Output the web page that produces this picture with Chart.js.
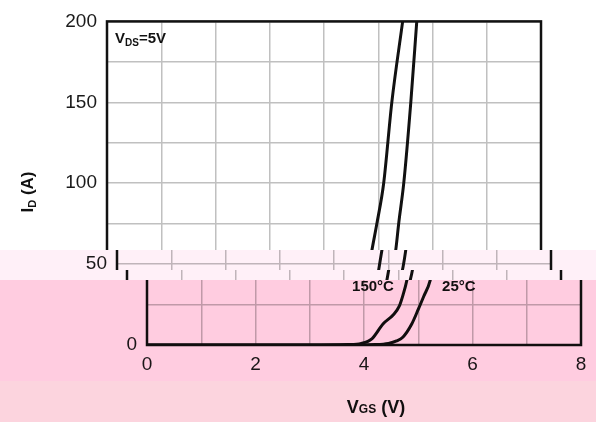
<!DOCTYPE html>
<html lang="en">
<head>
<meta charset="UTF-8">
<title>ID vs VGS</title>
<script src="https://cdn.jsdelivr.net/npm/chart.js"></script>
<style>
  body { margin: 0; width: 596px; height: 422px; overflow: hidden; position: relative; background: #fff; }
  .band { position: absolute; left: 0; width: 596px; overflow: hidden; }
  .band canvas { position: absolute; }
  .tint { position: absolute; left: 0; width: 596px; mix-blend-mode: multiply; pointer-events: none; }
</style>
</head>
<body>
  <!-- the picture is split into shifted strips, each strip is the same chart -->
  <div class="band" style="top:0;height:250px"><canvas id="c0" width="596" height="422" style="top:0;left:0"></canvas></div>
  <div class="band" style="top:250px;height:20px"><canvas id="c1" width="596" height="422" style="top:-250px;left:10px"></canvas></div>
  <div class="band" style="top:270px;height:10px"><canvas id="c2" width="596" height="422" style="top:-270px;left:20px"></canvas></div>
  <div class="band" style="top:280px;height:142px"><canvas id="c3" width="596" height="422" style="top:-280px;left:40px"></canvas></div>
  <div class="tint" style="top:250px;height:30px;background:#fff0f8"></div>
  <div class="tint" style="top:280px;height:101px;background:#ffcce0"></div>
  <div class="tint" style="top:381px;height:41px;background:#fcd4de"></div>

<script>
// transfer curves, VDS = 5V
var vgs150 = [0, 3.0, 3.7, 3.95, 4.15, 4.35, 4.55, 4.65, 4.72, 4.79, 4.88, 4.98, 5.1, 5.25, 5.45];
var id150  = [0, 0, 0.3, 1, 4, 13, 19, 24, 31, 40, 58, 76, 100, 150, 200];
var vgs25  = [0, 3.5, 4.2, 4.45, 4.6, 4.72, 4.88, 5.0, 5.1, 5.22, 5.32, 5.38, 5.47, 5.6, 5.71];
var id25   = [0, 0, 0.3, 1, 2.5, 5, 13, 22, 30, 40, 58, 76, 100, 150, 200];

var xTicks = [0, 2, 4, 6, 8];
var yTicks = [0, 50, 100, 150, 200];

var tempLabels = ['150°C', '25°C'];
var tempLabelV = [3.78, 5.44];
var tempLabelI = 36;

var FONT = '"Liberation Sans", Arial, sans-serif';

function pts(xs, ys) {
    return xs.map(function (v, i) { return { x: v, y: ys[i] }; });
}

// draw text made of parts (normal / subscript)
function drawParts(ctx, parts, x, y) {
    parts.forEach(function (p) {
        ctx.font = p.font;
        ctx.fillText(p.t, x, y + (p.dy || 0));
        x += ctx.measureText(p.t).width;
    });
}
function partsWidth(ctx, parts) {
    var w = 0;
    parts.forEach(function (p) { ctx.font = p.font; w += ctx.measureText(p.t).width; });
    return w;
}

var decor = {
    id: 'decor',
    afterDraw: function (chart) {
        var ctx = chart.ctx, a = chart.chartArea;
        var x = chart.scales.x, y = chart.scales.y;
        ctx.save();
        ctx.strokeStyle = '#111';
        ctx.lineWidth = 2.5;
        ctx.strokeRect(a.left, a.top, a.width, a.height);

        ctx.fillStyle = '#111';
        ctx.textBaseline = 'alphabetic';
        drawParts(ctx, [
            { t: 'V', font: 'bold 15px ' + FONT },
            { t: 'DS', font: 'bold 10px ' + FONT, dy: 3 },
            { t: '=5V', font: 'bold 15px ' + FONT }
        ], a.left + 8, a.top + 22);

        ctx.textBaseline = 'middle';
        ctx.font = 'bold 15px ' + FONT;
        tempLabels.forEach(function (t, i) {
            ctx.fillText(t, x.getPixelForValue(tempLabelV[i]), y.getPixelForValue(tempLabelI));
        });

        // y title
        var yt = [
            { t: 'I', font: 'bold 17px ' + FONT },
            { t: 'D', font: 'bold 11px ' + FONT, dy: 3 },
            { t: ' (A)', font: 'bold 17px ' + FONT }
        ];
        ctx.save();
        ctx.translate(33, 192);
        ctx.rotate(-Math.PI / 2);
        ctx.textBaseline = 'alphabetic';
        drawParts(ctx, yt, -partsWidth(ctx, yt) / 2, 0);
        ctx.restore();

        // x title
        var xt = [
            { t: 'V', font: 'bold 18px ' + FONT },
            { t: 'GS', font: 'bold 12px ' + FONT },
            { t: ' (V)', font: 'bold 18px ' + FONT }
        ];
        ctx.textBaseline = 'alphabetic';
        drawParts(ctx, xt, (a.left + a.right) / 2 + 12 - partsWidth(ctx, xt) / 2, a.bottom + 68);
        ctx.restore();
    }
};

function makeChart(id) {
    var ctx = document.getElementById(id).getContext('2d');
    return new Chart(ctx, {
        type: 'line',
        data: {
            datasets: [{
                label: '150°C',
                data: pts(vgs150, id150),
                borderColor: '#111',
                borderWidth: 3,
                pointRadius: 0,
                cubicInterpolationMode: 'monotone'
            }, {
                label: '25°C',
                data: pts(vgs25, id25),
                borderColor: '#111',
                borderWidth: 3,
                pointRadius: 0,
                cubicInterpolationMode: 'monotone'
            }]
        },
        options: {
            responsive: false,
            animation: false,
            devicePixelRatio: 1,
            layout: { padding: { top: 17, right: 55, bottom: 0, left: 0 } },
            plugins: { legend: { display: false }, tooltip: { enabled: false } },
            scales: {
                x: {
                    type: 'linear',
                    min: 0,
                    max: 8,
                    afterFit: function (s) { s.height = 77; },
                    border: { display: false },
                    grid: { color: '#c0c0c0', lineWidth: 1.5, drawTicks: false },
                    ticks: {
                        stepSize: 1,
                        autoSkip: false,
                        maxRotation: 0,
                        padding: 8,
                        color: '#1a1a1a',
                        font: { family: FONT, size: 19 },
                        callback: function (v) { return xTicks.indexOf(v) >= 0 ? v : ''; }
                    }
                },
                y: {
                    min: 0,
                    max: 200,
                    afterFit: function (s) { s.width = 107; },
                    border: { display: false },
                    grid: { color: '#c0c0c0', lineWidth: 1.5, drawTicks: false },
                    ticks: {
                        stepSize: 25,
                        autoSkip: false,
                        padding: 10,
                        color: '#1a1a1a',
                        font: { family: FONT, size: 19 },
                        callback: function (v) { return yTicks.indexOf(v) >= 0 ? v : ''; }
                    }
                }
            }
        },
        plugins: [decor]
    });
}

['c0', 'c1', 'c2', 'c3'].forEach(makeChart);
</script>
</body>
</html>
